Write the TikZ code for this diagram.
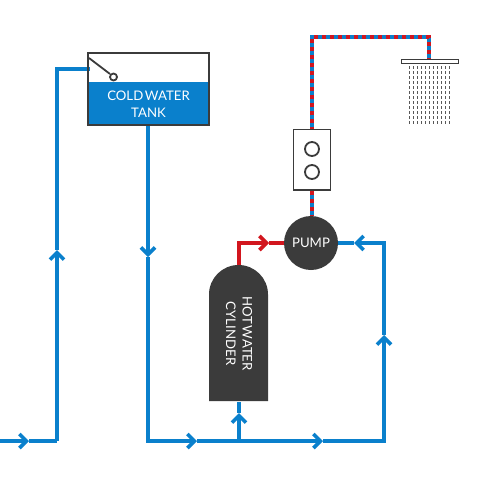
\documentclass[tikz,border=0pt]{standalone}
\usepackage{fontspec}
\setmainfont[WordSpace=0.5]{Lato}
\usetikzlibrary{arrows.meta,positioning}
\definecolor{pipeblue}{HTML}{0A80CC}
\definecolor{pipered}{HTML}{D2161E}
\definecolor{darkgrey}{HTML}{3B3B3B}

\begin{document}
\begin{tikzpicture}[x=1pt,y=-1pt,>={Straight Barb[length=7pt,width=14pt,line width=3.6pt]},
  pipe/.style={draw=pipeblue,line width=4pt},
  hot/.style={draw=pipered,line width=4pt},
  knob/.style={circle,draw=darkgrey,line width=1.8pt,minimum size=14pt,inner sep=0pt},
  label/.style={text=white,font=\fontsize{13.2}{16.5}\selectfont,align=center,inner sep=0pt}]
\useasboundingbox (0,0) rectangle (479,479);
% pipe corners and arrow tips
\coordinate (inlet) at (0,441);
\coordinate (inlettip) at (29,441);
\coordinate (riser) at (57,441);
\coordinate (risertip) at (57,250);
\coordinate (risertop) at (57,69);
\coordinate (fill) at (90,69);
\coordinate (tankout) at (148,124);
\coordinate (downtip) at (148,257);
\coordinate (base) at (148,441);
\coordinate (basetip1) at (197,441);
\coordinate (tee) at (239,441);
\coordinate (basetip2) at (323,441);
\coordinate (corner) at (384,441);
\coordinate (uptip) at (384,335);
\coordinate (return) at (384,243);
\coordinate (returntip) at (354,243);
\coordinate (teetip) at (239,413);
\coordinate (hotout) at (239,268);
\coordinate (hotbend) at (239,243);
\coordinate (hottip) at (269,243);
\coordinate (mixtop) at (312,37);
\coordinate (mixend) at (429,37);
\coordinate (rose) at (429,60);
% cold feed
\draw[pipe,->] (inlet)--(inlettip);
\draw[pipe] (inlettip)--(riser);
\draw[pipe,->] (riser)--(risertip);
\draw[pipe] (risertip)--(risertop)--(fill);
\draw[pipe,->] (tankout)--(downtip);
\draw[pipe,->] (downtip)--(base)--(basetip1);
\draw[pipe,->] (basetip1)--(basetip2);
\draw[pipe,->] (basetip2)--(corner)--(uptip);
\draw[pipe,->] (uptip)--(return)--(returntip);
\draw[pipe,->] (tee)--(teetip);
\draw[pipe] (teetip)--(239,402);
\draw[pipe] (returntip)--(335,243);
% hot feed
\draw[hot,->] (hotout)--(hotbend)--(hottip);
\draw[hot] (hottip)--(290,243);
% mixed outlet
\draw[pipe] (312,216)--(mixtop)--(mixend)--(rose);
\draw[draw=pipered,line width=4pt,dash pattern=on 4pt off 4pt,dash phase=3pt] (312,216)--(mixtop)--(mixend)--(rose);
% tank
\fill[pipeblue] (88,82) rectangle (208.5,125);
\draw[darkgrey,line width=2pt] (88,53) rectangle (208.5,125);
\draw[darkgrey,line width=1.8pt] (89,58)--(110,74);
\node[circle,draw=darkgrey,line width=1.8pt,minimum size=7pt,inner sep=0pt,fill=white](float) at (113.5,77){};
\node[label](tank) at (148.5,104){COLD WATER\\TANK};
% cylinder
\fill[darkgrey] (209,401)--(209,294.5) arc[start angle=180,end angle=360,radius=29.5]--(268,401)--cycle;
\node[label,rotate=-90](cylinder) at (239,333.5){HOT WATER\\CYLINDER};
% pump
\node[circle,fill=darkgrey,minimum size=54pt,inner sep=0pt,label,text=white](pump) at (311,243){PUMP};
% valve
\draw[darkgrey,line width=1.8pt,fill=white] (293.5,129.5) rectangle (330.5,190);
\node[knob](knob1) at (312,149){};
\node[knob](knob2) at (312,172){};
% shower
\draw[darkgrey,line width=1pt,fill=white] (401,59.5) rectangle (458,63.5);
\foreach \col in {0,...,10}
  \draw[darkgrey!85,line width=1pt,dash pattern=on 3pt off 2pt] (409+4.05*\col,66)--(409+4.05*\col,124);
\end{tikzpicture}
\end{document}
